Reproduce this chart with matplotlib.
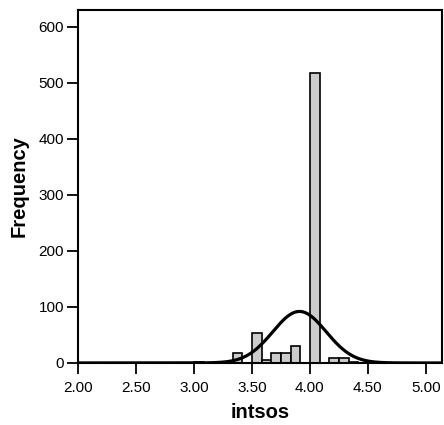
import matplotlib
matplotlib.use("Agg")
import matplotlib.pyplot as plt
import numpy as np

plt.rcParams['font.family'] = ['Liberation Sans', 'DejaVu Sans']

# histogram of intsos, bins of width 1/12
bin_width = 1.0 / 12
bin_starts = [3.0, 3 + 4 / 12, 3.5, 3 + 7 / 12, 3 + 8 / 12, 3.75, 3 + 10 / 12,
              4.0, 4 + 2 / 12, 4.25, 4 + 4 / 12]
counts = [2, 18, 53, 6, 18, 18, 31, 518, 9, 9, 1]

# fitted normal curve
curve_mean = 3.91
curve_sd = 0.23
curve_n = 636

x_ticks = [2.0, 2.5, 3.0, 3.5, 4.0, 4.5, 5.0]
y_ticks = [0, 100, 200, 300, 400, 500, 600]

fig = plt.figure(figsize=(4.44, 4.25), dpi=100)
ax = fig.add_axes([0.1757, 0.146, 0.82, 0.8305])

ax.bar(bin_starts, counts, width=bin_width, align='edge',
       color='#cccccc', edgecolor='black', linewidth=1.2, zorder=2)

xs = np.linspace(2.0, 5.14, 400)
ys = curve_n * bin_width / (curve_sd * np.sqrt(2 * np.pi)) * \
    np.exp(-0.5 * ((xs - curve_mean) / curve_sd) ** 2)
ax.plot(xs, ys, color='black', linewidth=2.3, zorder=3)

ax.set_xlim(2.0, 5.14)
ax.set_ylim(0, 630)
ax.set_xticks(x_ticks)
ax.set_xticklabels([f'{t:.2f}' for t in x_ticks])
ax.set_yticks(y_ticks)

for s in ax.spines.values():
    s.set_linewidth(1.5)
ax.tick_params(direction='out', length=8, width=1.3, labelsize=11, pad=2)
ax.tick_params(axis='x', pad=5)

ax.set_xlabel('intsos', fontsize=14.5, fontweight='bold', labelpad=6)
ax.set_ylabel('Frequency', fontsize=14.5, fontweight='bold', labelpad=7)

fig.savefig('out.png', dpi=100)
